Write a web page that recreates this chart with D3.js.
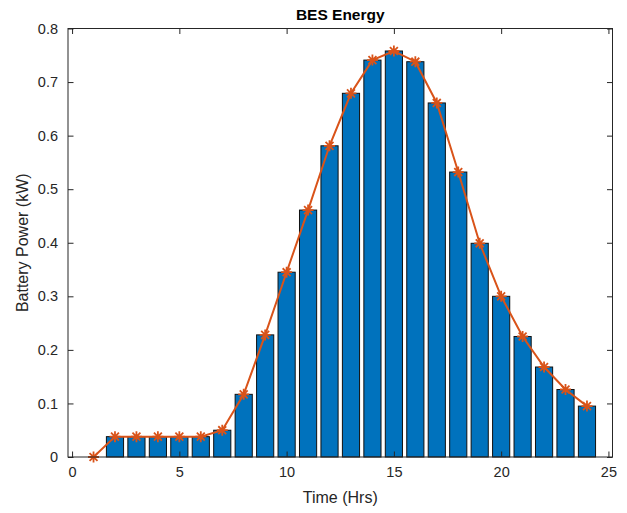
<!DOCTYPE html>
<html>
<head>
<meta charset="utf-8">
<script src="https://cdn.jsdelivr.net/npm/d3@7"></script>
<style>
  html, body { margin: 0; padding: 0; background: #fff; }
  svg { display: block; }
  text { font-family: "Liberation Sans", Arial, Helvetica, sans-serif; }
</style>
</head>
<body>
<svg id="chart" width="627" height="513"></svg>
<script>
// Data
const hours = [1,2,3,4,5,6,7,8,9,10,11,12,13,14,15,16,17,18,19,20,21,22,23,24];
const power = [0,0.038,0.038,0.038,0.038,0.038,0.050,0.117,0.228,0.345,0.461,0.581,0.679,0.741,0.758,0.738,0.661,0.532,0.399,0.300,0.225,0.168,0.126,0.095];
const xTicks = [0,5,10,15,20,25];
const yTicks = [0,0.1,0.2,0.3,0.4,0.5,0.6,0.7,0.8];
const titleText = "BES Energy";
const xLabel = "Time (Hrs)";
const yLabel = "Battery Power (kW)";

(function () {
const svg = d3.select("#chart");
const pLeft = 68, pRight = 612.5, pTop = 28.5, pBottom = 457;
const axisColor = "#262626";

const x = d3.scaleLinear().domain([-0.19, 25.19]).range([pLeft, pRight]);
const y = d3.scaleLinear().domain([0, 0.8]).range([pBottom, pTop]);

// Bars
const barW = 0.8;
svg.append("g").selectAll("rect")
  .data(hours.map((h, i) => ({h, v: power[i]})).filter(d => d.v > 0))
  .join("rect")
  .attr("x", d => x(d.h - barW/2))
  .attr("y", d => y(d.v))
  .attr("width", d => x(d.h + barW/2) - x(d.h - barW/2))
  .attr("height", d => y(0) - y(d.v))
  .attr("fill", "#0072BD")
  .attr("stroke", "#111")
  .attr("stroke-width", 1);

// Line
const line = d3.line().x((d, i) => x(hours[i])).y(d => y(d));
svg.append("path")
  .datum(power)
  .attr("d", line)
  .attr("fill", "none")
  .attr("stroke", "#D95319")
  .attr("stroke-width", 2);

// Star markers
const r = 5.5, rd = r * 0.72;
const starPath = `M${-r},0L${r},0M0,${-r}L0,${r}M${-rd},${-rd}L${rd},${rd}M${-rd},${rd}L${rd},${-rd}`;
svg.append("g").selectAll("path")
  .data(power)
  .join("path")
  .attr("transform", (d, i) => `translate(${x(hours[i])},${y(d)})`)
  .attr("d", starPath)
  .attr("stroke", "#D95319")
  .attr("stroke-width", 1.8)
  .attr("fill", "none");

// Axes box
const tickLen = 5.5;
const axes = svg.append("g");
axes.append("rect")
  .attr("x", pLeft).attr("y", pTop)
  .attr("width", pRight - pLeft).attr("height", pBottom - pTop)
  .attr("fill", "none").attr("stroke", axisColor).attr("stroke-width", 1);

const xAxisB = d3.axisBottom(x).tickValues(xTicks).tickSizeInner(-tickLen).tickSizeOuter(0).tickPadding(10);
const gxb = axes.append("g").attr("transform", `translate(0,${pBottom})`).call(xAxisB);
gxb.select(".domain").remove();
gxb.selectAll("line").attr("stroke", axisColor);
gxb.selectAll("text").attr("fill", axisColor).attr("font-size", 14.5).attr("dy", "0.71em");

const xAxisT = d3.axisTop(x).tickValues(xTicks).tickSizeInner(-tickLen).tickSizeOuter(0).tickFormat("");
const gxt = axes.append("g").attr("transform", `translate(0,${pTop})`).call(xAxisT);
gxt.select(".domain").remove();
gxt.selectAll("line").attr("stroke", axisColor);

const yAxisL = d3.axisLeft(y).tickValues(yTicks).tickSizeInner(-tickLen).tickSizeOuter(0).tickPadding(10)
  .tickFormat(d => d === 0 ? "0" : d3.format(".1f")(d));
const gyl = axes.append("g").attr("transform", `translate(${pLeft},0)`).call(yAxisL);
gyl.select(".domain").remove();
gyl.selectAll("line").attr("stroke", axisColor);
gyl.selectAll("text").attr("fill", axisColor).attr("font-size", 14.5);

const yAxisR = d3.axisRight(y).tickValues(yTicks).tickSizeInner(-tickLen).tickSizeOuter(0).tickFormat("");
const gyr = axes.append("g").attr("transform", `translate(${pRight},0)`).call(yAxisR);
gyr.select(".domain").remove();
gyr.selectAll("line").attr("stroke", axisColor);

svg.append("text")
  .attr("x", (pLeft + pRight) / 2).attr("y", 20)
  .attr("text-anchor", "middle")
  .attr("font-size", 15.5).attr("font-weight", "bold").attr("fill", "#000")
  .text(titleText);

svg.append("text")
  .attr("x", (pLeft + pRight) / 2).attr("y", 503)
  .attr("text-anchor", "middle")
  .attr("font-size", 16).attr("fill", axisColor)
  .text(xLabel);

svg.append("text")
  .attr("transform", `translate(28,${(pTop + pBottom) / 2}) rotate(-90)`)
  .attr("text-anchor", "middle")
  .attr("font-size", 16).attr("fill", axisColor)
  .text(yLabel);
})();
</script>
</body>
</html>
